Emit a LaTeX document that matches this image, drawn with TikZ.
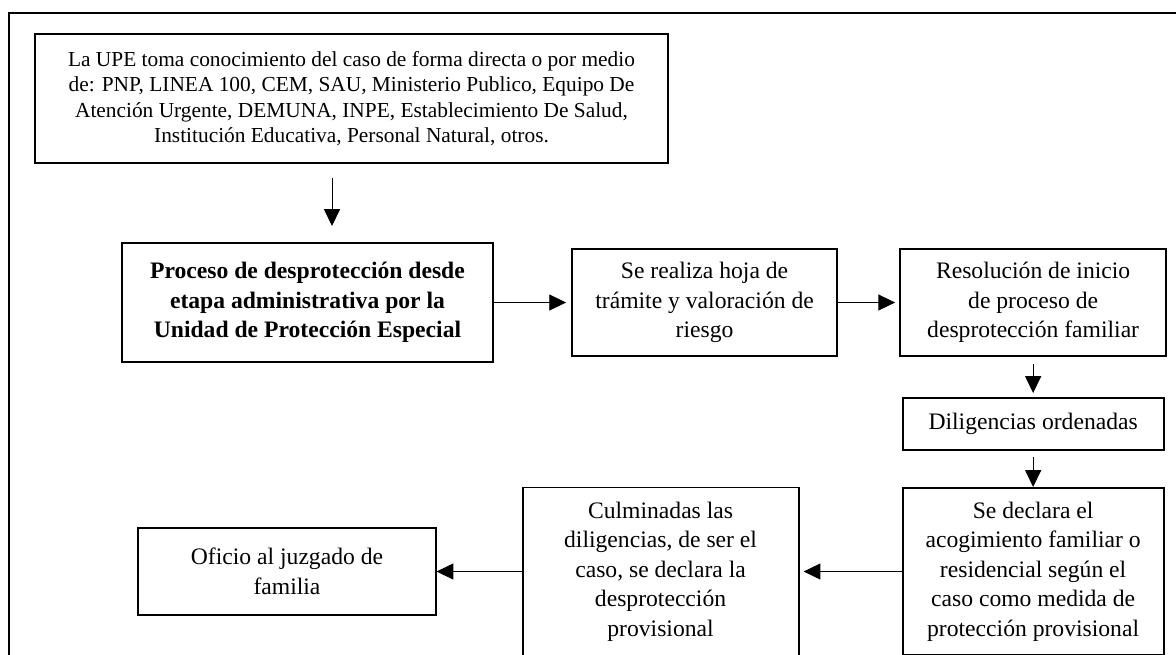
\documentclass[tikz,border=0pt]{standalone}
\usepackage{fontspec}
\setmainfont{Liberation Serif}
\usetikzlibrary{positioning,arrows.meta}

\begin{document}
\begin{tikzpicture}[x=0.025cm,y=-0.025cm,
box/.style={draw,rectangle,line width=1.4pt,align=center,inner sep=0pt,
    font=\fontsize{16.8}{21}\selectfont},
arr/.style={line width=0.7pt,-{Triangle[length=0.42cm,width=0.4cm]}}]
\useasboundingbox (0,0) rectangle (1176,654);
\draw[line width=1.4pt] (9,700) -- (9,13) -- (1200,13);

\node (upe) [box,minimum width=15.825cm,minimum height=3.225cm,
    font=\fontsize{15.2}{18.1}\selectfont] at (351.5,98.5)
    {La UPE toma conocimiento del caso de forma directa o por medio\\
     de: PNP, LINEA 100, CEM, SAU, Ministerio Publico, Equipo De\\
     Atención Urgente, DEMUNA, INPE, Establecimiento De Salud,\\
     Institución Educativa, Personal Natural, otros.};
\node (proc) [box,minimum width=9.275cm,minimum height=2.975cm,
    font=\fontsize{16.8}{21}\selectfont\bfseries] at (307.5,302.5)
    {Proceso de desprotección desde\\ etapa administrativa por la\\ Unidad de Protección Especial};
\node (hoja) [box,minimum width=6.625cm,minimum height=2.675cm,right=1.925cm of proc]
    {Se realiza hoja de\\ trámite y valoración de\\ riesgo};
\node (resol) [box,minimum width=6.65cm,minimum height=2.675cm,right=1.525cm of hoja]
    {Resolución de inicio\\ de proceso de\\ desprotección familiar};
\node (dilig) [box,minimum width=6.525cm,minimum height=1.3cm,below=1.0cm of resol]
    {Diligencias ordenadas};
\node (acog) [box,minimum width=6.525cm,minimum height=4.175cm,below=0.9cm of dilig]
    {Se declara el\\ acogimiento familiar o\\ residencial según el\\ caso como medida de\\ protección provisional};
\node (culm) [box,minimum width=6.9cm,minimum height=4.2cm,left=2.55cm of acog]
    {Culminadas las\\ diligencias, de ser el\\ caso, se declara la\\ desprotección\\ provisional};
\node (oficio) [box,minimum width=7.425cm,minimum height=2.175cm,left=2.125cm of culm]
    {Oficio al juzgado de\\ familia};

\coordinate (inicio) at (332,178);
\draw[arr,shorten >=0.4cm] (inicio) -- (inicio |- proc.north);
\draw[arr,shorten >=0.125cm] (proc.east) -- (proc.east -| hoja.west);
\draw[arr,shorten >=0.1cm] (hoja.east) -- (hoja.east -| resol.west);
\draw[arr,shorten <=0.175cm,shorten >=0.1cm] (resol.south) -- (resol.south |- dilig.north);
\draw[arr,shorten <=0.15cm] (dilig.south) -- (dilig.south |- acog.north);
\draw[arr,shorten >=0.1cm] (acog.west) -- (acog.west -| culm.east);
\draw[arr] (culm.west) -- (culm.west -| oficio.east);
\end{tikzpicture}
\end{document}
